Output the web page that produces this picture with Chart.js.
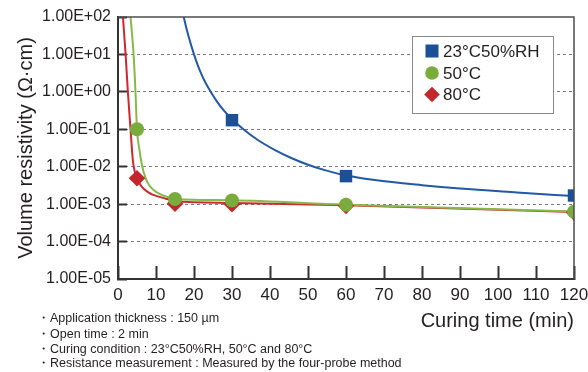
<!DOCTYPE html>
<html>
<head>
<meta charset="utf-8">
<script src="https://cdn.jsdelivr.net/npm/chart.js@4.4.0/dist/chart.umd.min.js"></script>
<style>
  html, body { margin: 0; padding: 0; background: #fff; }
  #wrap { width: 588px; height: 372px; }
</style>
</head>
<body>
<div id="wrap"><canvas id="resistivityCanvas" width="588" height="372"></canvas></div>
<script>
// axis ticks
const xTicks = [0, 10, 20, 30, 40, 50, 60, 70, 80, 90, 100, 110, 120];
const yTickValues = [1e-5, 1e-4, 1e-3, 1e-2, 1e-1, 1e0, 1e1, 1e2];
const yTickLabels = ['1.00E-05', '1.00E-04', '1.00E-03', '1.00E-02', '1.00E-01', '1.00E+00', '1.00E+01', '1.00E+02'];

const seriesNames = ['23°C50%RH', '50°C', '80°C'];

// measured points
const rhTimes = [30, 60, 120];
const rhValues = [0.175, 0.0056, 0.0017];
const c50Times = [5, 15, 30, 60, 120];
const c50Values = [0.1, 0.00137, 0.00125, 0.00096, 0.00063];
const c80Times = [5, 15, 30, 60, 120];
const c80Values = [0.0049, 0.00103, 0.00099, 0.0009, 0.0006];

// fitted curves
const rhCurveX = [17.3, 18, 19, 20, 21, 22, 23, 24.4, 26, 28, 30.4, 33, 36.8, 41.2, 45.6, 50, 54.4, 58.8, 67.6, 80, 90, 105, 120];
const rhCurveY = [100, 50, 21.4, 10, 5.1, 2.9, 1.78, 1, 0.555, 0.305, 0.171, 0.1, 0.0516, 0.0282, 0.0171, 0.0113, 0.0081, 0.0062, 0.0044, 0.0032, 0.0026, 0.00205, 0.00164];
const c50CurveX = [3.3, 4.1, 4.6, 5, 5.6, 6.4, 7.2, 8.2, 9.4, 10.8, 13.4, 15.4, 30, 60, 120];
const c50CurveY = [100, 10, 1, 0.1, 0.03, 0.01, 0.0052, 0.0032, 0.0024, 0.0019, 0.0015, 0.00138, 0.00127, 0.00097, 0.00064];
const c80CurveX = [1.3, 2.0, 2.6, 3.3, 3.9, 4.4, 5, 6.4, 7.9, 9.1, 12.6, 15, 30, 60, 120];
const c80CurveY = [100, 10, 1, 0.1, 0.015, 0.0075, 0.0049, 0.0028, 0.0021, 0.0018, 0.0014, 0.00122, 0.00108, 0.00093, 0.00062];

const noteLines = [
    '・Application thickness : 150 µm',
    '・Open time : 2 min',
    '・Curing condition : 23°C50%RH, 50°C and 80°C',
    '・Resistance measurement : Measured by the four-probe method'
];

const FONT = "'Liberation Sans', Arial, Helvetica, sans-serif";
const TEXT = '#231f20';

function zip(xs, ys) {
    return xs.map((x, i) => ({ x: x, y: ys[i] }));
}

function curve(xs, ys, color) {
    return {
        data: zip(xs, ys),
        showLine: true,
        borderColor: color,
        borderWidth: 2,
        pointRadius: 0,
        cubicInterpolationMode: 'monotone',
        order: 5
    };
}

function markers(xs, ys, color, style, radius, order) {
    return {
        data: zip(xs, ys),
        showLine: false,
        pointStyle: style,
        pointRadius: radius,
        backgroundColor: color,
        borderColor: color,
        borderWidth: 0,
        order: order
    };
}

const markerStyles = [
    { color: '#1b4f97', style: 'rect' },
    { color: '#7aab3d', style: 'circle' },
    { color: '#c1272d', style: 'rectRot' }
];

// frame, legend box, x title and notes
const extrasPlugin = {
    id: 'extras',
    afterDatasetsDraw(chart) {
        const { ctx, chartArea: a } = chart;
        ctx.save();
        ctx.strokeStyle = '#4d4d4d';
        ctx.lineWidth = 1.5;
        ctx.beginPath();
        ctx.moveTo(a.left, a.top);
        ctx.lineTo(a.right, a.top);
        ctx.lineTo(a.right, a.bottom);
        ctx.stroke();
        ctx.restore();
    },
    afterDraw(chart) {
        const ctx = chart.ctx;
        ctx.save();

        // legend
        ctx.fillStyle = '#fff';
        ctx.fillRect(412, 36, 141, 77);
        ctx.strokeStyle = '#8a8a8a';
        ctx.lineWidth = 1;
        ctx.strokeRect(412.5, 36.5, 141, 77);
        const rowY = [51, 73, 94.5];
        seriesNames.forEach((name, i) => {
            const m = markerStyles[i];
            const cx = 432, cy = rowY[i];
            ctx.fillStyle = m.color;
            ctx.beginPath();
            if (m.style === 'rect') {
                ctx.rect(cx - 6.5, cy - 6.5, 13, 13);
            } else if (m.style === 'circle') {
                ctx.arc(cx, cy, 6.8, 0, Math.PI * 2);
            } else {
                ctx.moveTo(cx, cy - 7.8);
                ctx.lineTo(cx + 7.8, cy);
                ctx.lineTo(cx, cy + 7.8);
                ctx.lineTo(cx - 7.8, cy);
                ctx.closePath();
            }
            ctx.fill();
            ctx.fillStyle = TEXT;
            ctx.font = '17px ' + FONT;
            ctx.textAlign = 'left';
            ctx.textBaseline = 'middle';
            ctx.fillText(name, 443, cy + 1);
        });

        // x axis title
        ctx.fillStyle = TEXT;
        ctx.font = '20px ' + FONT;
        ctx.textAlign = 'right';
        ctx.textBaseline = 'middle';
        ctx.fillText('Curing time (min)', 574, 321);

        // notes
        ctx.font = '12.5px ' + FONT;
        ctx.textAlign = 'left';
        const noteY = [319, 334.5, 349.5, 364];
        noteLines.forEach((line, i) => ctx.fillText(line, 37, noteY[i]));

        ctx.restore();
    }
};

const chart = new Chart(document.getElementById('resistivityCanvas'), {
    type: 'scatter',
    data: {
        datasets: [
            markers(rhTimes, rhValues, markerStyles[0].color, 'rect', 8.8, 0),
            markers(c50Times, c50Values, markerStyles[1].color, 'circle', 7, 1),
            markers(c80Times, c80Values, markerStyles[2].color, 'rectRot', 8.3, 2),
            curve(rhCurveX, rhCurveY, '#2159a6'),
            curve(c50CurveX, c50CurveY, '#86b94a'),
            curve(c80CurveX, c80CurveY, '#cc2a30')
        ]
    },
    options: {
        responsive: false,
        animation: false,
        events: [],
        layout: { padding: { top: 17, right: 14, left: 0, bottom: 0 } },
        plugins: {
            legend: { display: false },
            tooltip: { enabled: false }
        },
        scales: {
            x: {
                type: 'linear',
                min: 0,
                max: 120,
                afterBuildTicks: (scale) => { scale.ticks = xTicks.map(v => ({ value: v })); },
                afterFit: (scale) => {
                    scale.height = 93;
                    scale.paddingLeft = 0;
                    scale.paddingRight = 0;
                },
                ticks: {
                    autoSkip: false,
                    maxRotation: 0,
                    padding: 19,
                    color: TEXT,
                    font: { family: FONT, size: 17 }
                },
                grid: {
                    drawOnChartArea: false,
                    tickLength: -13,
                    tickWidth: 2,
                    tickColor: '#333'
                },
                border: { display: true, color: '#333', width: 2 }
            },
            y: {
                type: 'logarithmic',
                min: 1e-5,
                max: 1e2,
                afterBuildTicks: (scale) => { scale.ticks = yTickValues.map(v => ({ value: v })); },
                afterFit: (scale) => {
                    scale.width = 118;
                    scale.paddingTop = 0;
                    scale.paddingBottom = 0;
                },
                ticks: {
                    padding: 16,
                    color: TEXT,
                    font: { family: FONT, size: 16 },
                    callback: (value, index) => yTickLabels[index]
                },
                grid: {
                    color: (ctx) => (ctx.tick && (ctx.tick.value === 1e2 || ctx.tick.value === 1e-5)) ? 'rgba(0,0,0,0)' : '#7a7a7a',
                    lineWidth: 1,
                    tickLength: -9,
                    tickWidth: 2,
                    tickColor: '#333'
                },
                border: { display: true, color: '#333', width: 2, dash: [3, 3] },
                title: {
                    display: true,
                    text: 'Volume resistivity (Ω·cm)',
                    color: TEXT,
                    font: { family: FONT, size: 20 },
                    padding: { top: 14, bottom: 0 }
                }
            }
        }
    },
    plugins: [extrasPlugin]
});
</script>
</body>
</html>
